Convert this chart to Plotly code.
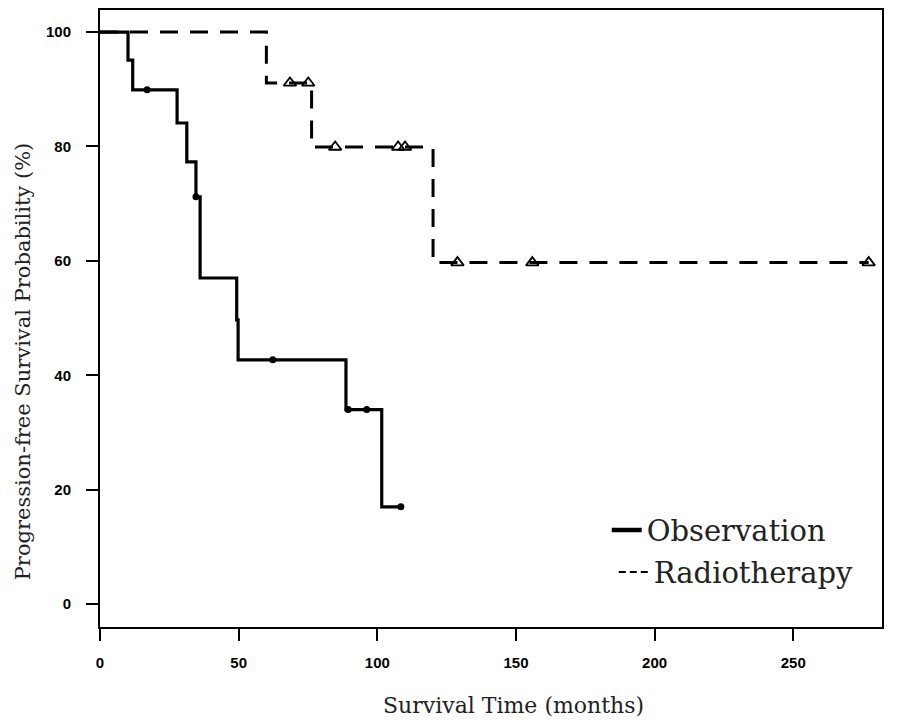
import plotly.graph_objects as go

# Observation (solid) Kaplan-Meier steps
obs_time = [0, 10.1, 11.8, 27.8, 31.3, 34.6, 36.1, 49.3, 49.8, 88.7, 101.6, 108.5]
obs_surv = [100, 95.1, 89.9, 84.1, 77.3, 71.2, 57.0, 49.7, 42.7, 34.0, 17.0, 17.0]
obs_cens_time = [17.0, 34.6, 62.3, 89.5, 96.2, 108.5]
obs_cens_surv = [89.9, 71.2, 42.7, 34.0, 34.0, 17.0]

# Radiotherapy (dashed) Kaplan-Meier steps
rt_time = [0, 60.0, 76.3, 120.1, 277.2]
rt_surv = [100, 91.1, 79.9, 59.7, 59.7]
rt_cens_time = [68.5, 75.1, 84.8, 107.5, 110.0, 128.9, 155.9, 277.2]
rt_cens_surv = [91.1, 91.1, 79.9, 79.9, 79.9, 59.7, 59.7, 59.7]

x_ticks = [0, 50, 100, 150, 200, 250]
y_ticks = [0, 20, 40, 60, 80, 100]

DASH = "18px,12px"

fig = go.Figure()
fig.add_trace(go.Scatter(x=obs_time, y=obs_surv, mode="lines", line=dict(color="black", width=3.2, shape="hv"),
                         showlegend=False, hoverinfo="skip"))
fig.add_trace(go.Scatter(x=obs_cens_time, y=obs_cens_surv, mode="markers",
                         marker=dict(symbol="circle", size=7, color="black"), showlegend=False))
fig.add_trace(go.Scatter(x=rt_time, y=rt_surv, mode="lines", line=dict(color="black", width=3, shape="hv", dash=DASH),
                         showlegend=False, hoverinfo="skip"))
fig.add_trace(go.Scatter(x=rt_cens_time, y=rt_cens_surv, mode="markers",
                         marker=dict(symbol="triangle-up-open", size=11, color="black", line=dict(width=1.8)),
                         showlegend=False))
# legend entries
fig.add_trace(go.Scatter(x=[None], y=[None], mode="lines", name="Observation",
                         line=dict(color="black", width=4.5), legend="legend"))
fig.add_trace(go.Scatter(x=[None], y=[None], mode="lines", name="Radiotherapy",
                         line=dict(color="black", width=2, dash="7px,4px"), legend="legend2"))

axis_common = dict(showgrid=False, zeroline=False, showline=True, linecolor="black", linewidth=2,
                   mirror=True, ticks="outside", ticklen=12, tickwidth=2, tickcolor="black",
                   automargin=False,
                   tickfont=dict(family="Liberation Sans", size=15, color="black", weight="bold"))

fig.update_xaxes(range=[0, 282.0], tickvals=x_ticks, ticktext=[str(v) for v in x_ticks],
                 ticklabelstandoff=9, **axis_common)
fig.update_yaxes(range=[-4.0, 103.85], tickvals=y_ticks, ticktext=[str(v) for v in y_ticks],
                 ticklabelstandoff=12, **axis_common)

fig.add_annotation(text="Survival Time (months)", xref="paper", yref="paper", x=0.529, y=-0.128,
                   showarrow=False, xanchor="center", yanchor="middle",
                   font=dict(family="DejaVu Serif", size=22, color="#222"))
fig.add_annotation(text="Progression-free Survival Probability (%)", xref="paper", yref="paper",
                   x=-0.099, y=0.43, textangle=-90, showarrow=False, xanchor="center", yanchor="middle",
                   font=dict(family="DejaVu Serif", size=21, color="#222"))

legend_font = dict(family="DejaVu Serif", size=29, color="#222")
fig.update_layout(
    width=903, height=721,
    margin=dict(l=92, r=29, t=2, b=102),
    paper_bgcolor="white", plot_bgcolor="white",
    legend=dict(x=0.648, y=0.157, xanchor="left", yanchor="middle", bgcolor="rgba(0,0,0,0)",
                font=legend_font, itemwidth=30),
    legend2=dict(x=0.657, y=0.089, xanchor="left", yanchor="middle", bgcolor="rgba(0,0,0,0)",
                 font=legend_font, itemwidth=30),
)

fig.write_html("out.html")
